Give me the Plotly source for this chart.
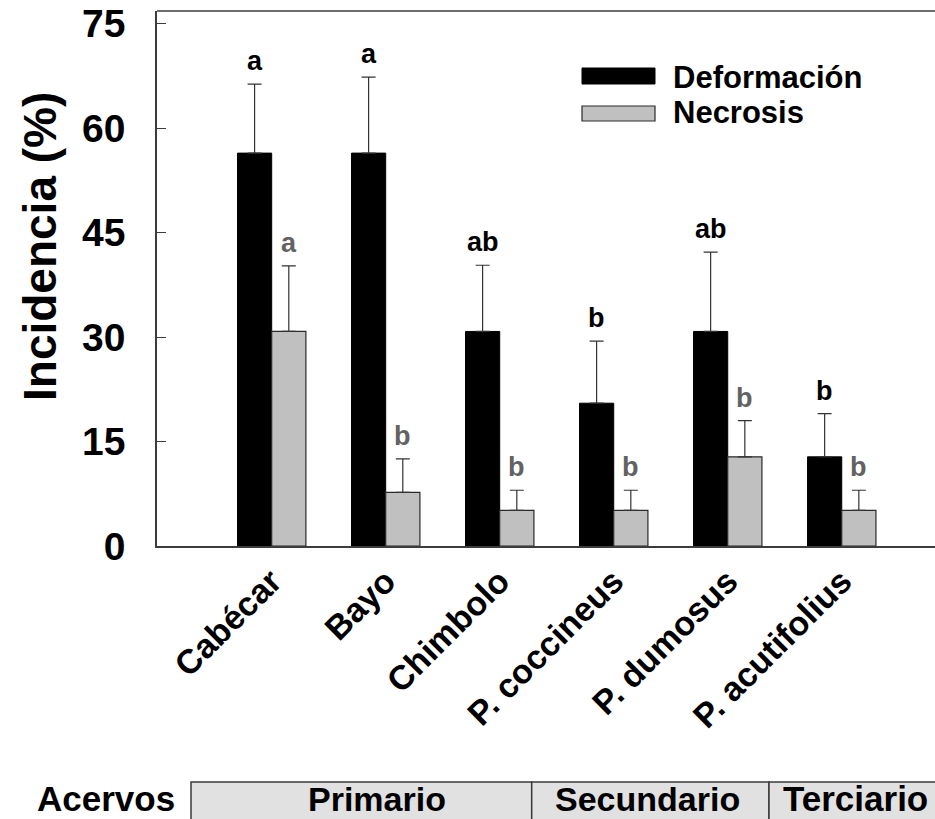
import plotly.graph_objects as go

# Incidence (%) of deformation and necrosis per bean accession
categorias = ["Cabécar", "Bayo", "Chimbolo", "P. coccineus", "P. dumosus", "P. acutifolius"]
deformacion = [56.4, 56.4, 30.8, 20.5, 30.8, 12.8]
deformacion_ee = [9.9, 10.9, 9.5, 8.9, 11.4, 6.2]
necrosis = [30.8, 7.7, 5.1, 5.1, 12.8, 5.1]
necrosis_ee = [9.4, 4.8, 2.9, 2.9, 5.2, 2.9]
letras_def = ["a", "a", "ab", "b", "ab", "b"]
letras_nec = ["a", "b", "b", "b", "b", "b"]
acervos = ["Primario", "Secundario", "Terciario"]
y_ticks = [0, 15, 30, 45, 60, 75]

W, H = 935, 819
L, R, T, B = 157, 0, 11, 273
PW, PH = W - L - R, H - T - B
FONT = "Liberation Sans, Arial, Helvetica, sans-serif"
AXIS_COL = "#3c3c3c"
GRIS = "#c0c0c0"
GRIS_TXT = "#626262"


def px_x(px):
    return (px - L) / PW


def px_y(py):
    return (H - B - py) / PH


xs = list(range(len(categorias)))
fig = go.Figure()
fig.add_trace(go.Bar(
    x=xs, y=deformacion, name="Deformación",
    marker=dict(color="#000000", line=dict(color="#000000", width=1)),
    error_y=dict(type="data", symmetric=False, array=deformacion_ee,
                 arrayminus=[0] * len(xs), color="#333333", thickness=1.2, width=7),
))
fig.add_trace(go.Bar(
    x=xs, y=necrosis, name="Necrosis",
    marker=dict(color=GRIS, line=dict(color="#2a2a2a", width=1.2)),
    error_y=dict(type="data", symmetric=False, array=necrosis_ee,
                 arrayminus=[0] * len(xs), color="#333333", thickness=1.2, width=7),
))

ann = []
# significance letters above each error bar
for i in xs:
    for val, ee, let, off, col in (
        (deformacion[i], deformacion_ee[i], letras_def[i], -0.15, "#000000"),
        (necrosis[i], necrosis_ee[i], letras_nec[i], 0.15, GRIS_TXT),
    ):
        ann.append(dict(x=i + off, y=val + ee, xref="x", yref="y", text=let,
                        showarrow=False, yanchor="bottom", yshift=6,
                        font=dict(family=FONT, size=27, color=col, weight="bold")))

# y-axis title
ann.append(dict(x=px_x(40), y=px_y(247), xref="paper", yref="paper",
                text="Incidencia (%)", textangle=-90, showarrow=False,
                xanchor="center", yanchor="middle",
                font=dict(family=FONT, size=46, color="#000000", weight="bold")))

# legend
shapes = [
    dict(type="line", xref="paper", yref="paper", x0=0, x1=1, y0=1, y1=1,
         line=dict(color=AXIS_COL, width=1.5)),
    dict(type="rect", xref="paper", yref="paper",
         x0=px_x(582), x1=px_x(655), y0=px_y(84), y1=px_y(68),
         fillcolor="#000000", line=dict(color="#000000", width=1)),
    dict(type="rect", xref="paper", yref="paper",
         x0=px_x(582), x1=px_x(655), y0=px_y(121), y1=px_y(106),
         fillcolor=GRIS, line=dict(color="#2a2a2a", width=1.2)),
]
for name, cy in (("Deformación", 77), ("Necrosis", 113)):
    ann.append(dict(x=px_x(671), y=px_y(cy), xref="paper", yref="paper",
                    text=name, showarrow=False, xanchor="left", yanchor="middle",
                    font=dict(family=FONT, size=31, color="#000000", weight="bold")))

# accession pool table
bordes = [191, 531.7, 769, 945]
for k, nombre in enumerate(acervos):
    x0, x1 = bordes[k], bordes[k + 1]
    shapes.append(dict(type="rect", xref="paper", yref="paper",
                       x0=px_x(x0), x1=px_x(x1), y0=px_y(830), y1=px_y(782),
                       fillcolor="#e1e1e1", line=dict(color="#3a3a3a", width=1.5)))
centros = [377, 647, 855]
tam = [34, 34, 35]
for nombre, cx, sz in zip(acervos, centros, tam):
    ann.append(dict(x=px_x(cx), y=px_y(818.5), xref="paper", yref="paper",
                    text=nombre, showarrow=False, xanchor="center", yanchor="bottom",
                    borderpad=0,
                    font=dict(family=FONT, size=sz, color="#000000", weight="bold")))
ann.append(dict(x=px_x(106), y=px_y(818.5), xref="paper", yref="paper",
                text="Acervos", showarrow=False, xanchor="center", yanchor="bottom",
                borderpad=0,
                font=dict(family=FONT, size=35, color="#000000", weight="bold")))

fig.update_layout(
    width=W, height=H,
    margin=dict(l=L, r=R, t=T, b=B, pad=0),
    paper_bgcolor="#ffffff", plot_bgcolor="#ffffff",
    barmode="group", bargap=0.4, bargroupgap=0,
    showlegend=False,
    annotations=ann, shapes=shapes,
    xaxis=dict(range=[-1.006, 5.818], tickvals=xs, ticktext=categorias,
               tickangle=-45, ticks="", showline=True, linecolor=AXIS_COL,
               linewidth=1.5, showgrid=False, zeroline=False,
               tickfont=dict(family=FONT, size=34, color="#000000", weight="bold")),
    yaxis=dict(range=[0, 76.8], tickvals=y_ticks, ticks="inside", ticklen=9,
               tickcolor=AXIS_COL, tickwidth=1.2, showline=True, linecolor=AXIS_COL,
               linewidth=1.5, showgrid=False, zeroline=False, ticklabelstandoff=22,
               tickfont=dict(family=FONT, size=39, color="#000000", weight="bold")),
)

fig.write_html("out.html")
